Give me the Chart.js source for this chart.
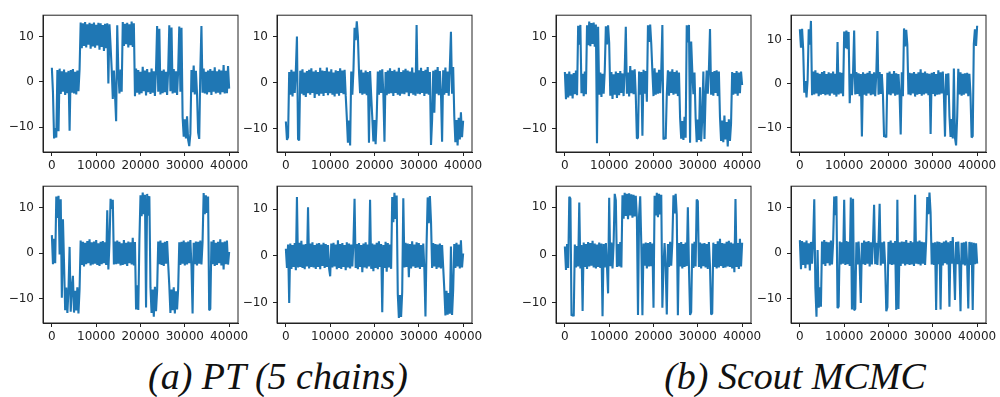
<!DOCTYPE html>
<html>
<head>
<meta charset="utf-8">
<script src="https://cdn.jsdelivr.net/npm/chart.js@4.4.1/dist/chart.umd.min.js"></script>
<style>
  body { margin: 0; background: #fff; width: 1000px; height: 397px; position: relative; overflow: hidden; }
  .panel { position: absolute; }
  .caption {
    position: absolute; top: 357px; line-height: 1;
    font-family: "Liberation Serif", serif; font-style: italic; font-size: 38px;
    color: #111; white-space: nowrap; transform: translateX(-50%);
  }
</style>
</head>
<body>
<div class="caption" style="left:278px">(a) PT (5 chains)</div>
<div class="caption" style="left:795px">(b) Scout MCMC</div>
<script>
// iterations between two recorded points of a trace
const step = 250;
const xTicks = [0, 10000, 20000, 30000, 40000];
const yTicks = [-10, 0, 10];

// PT (5 chains), traces (one value per 250 iterations)
const ptChain1 = [
  3.1,-2.4,-12.5,-10.2,-12.3,2.6,-10.9,2.9,-2.7,2.3,
  -2.2,2.7,-2.9,2.1,-2.5,2.4,-10.8,2.6,-2.4,2.8,
  -2.6,2.2,-2.8,2.5,-2.1,2.7,13.1,7.4,12.9,7.9,
  13.2,7.6,12.7,8.2,13.0,7.3,12.8,7.8,13.1,7.5,
  12.6,8.0,13.0,7.1,12.9,7.7,12.5,6.8,12.8,7.4,
  12.9,-0.4,12.7,7.9,2.8,-3.8,2.5,-2.9,-8.7,12.5,
  2.3,-2.6,2.7,-2.2,13.2,7.9,12.8,8.3,13.0,7.6,
  12.7,8.1,13.3,7.7,12.9,-3.2,2.9,-2.4,2.6,-2.8,
  2.2,-2.5,3.3,-2.1,2.5,-3.0,2.8,-2.3,2.1,-2.7,
  2.9,-2.4,2.3,-3.1,2.6,12.3,-2.2,11.7,-2.8,2.4,
  -2.5,2.7,-2.3,2.2,-2.9,2.6,12.5,-2.1,12.0,-2.6,
  2.8,-2.4,2.3,-2.9,2.5,12.2,-2.2,11.9,-7.8,-12.1,
  -8.3,-12.5,-7.6,-12.8,-14.2,-11.5,2.6,-2.3,3.6,-2.8,
  2.4,-2.5,-11.2,-12.6,2.7,12.3,-2.4,2.9,-2.6,2.2,
  -2.8,2.5,-2.3,2.8,-2.9,2.4,-2.2,3.2,-2.6,2.3,
  -2.4,2.7,-2.8,2.5,-2.3,3.7,-2.6,2.4,-2.5,3.5,
  -1.5
];
const ptChain2 = [
  -8.4,-12.4,-11.8,2.3,-2.6,2.8,-3.0,2.4,-2.2,2.7,
  10.0,-12.2,-12.5,2.6,-2.4,2.9,-2.7,2.2,-3.1,2.5,
  -2.3,2.8,-2.6,3.1,-2.2,2.4,-3.3,2.7,-2.5,2.3,
  -2.8,3.2,-2.4,2.6,-2.9,2.5,-2.2,3.3,-2.7,2.4,
  -2.3,2.9,-2.6,2.2,-3.0,2.7,-2.4,2.5,-2.8,3.1,
  -2.2,2.6,-2.5,2.8,-2.7,-7.5,-13.0,-8.2,-13.6,2.4,
  -2.6,2.7,11.9,9.2,13.3,10.1,2.5,-2.3,2.8,-2.6,
  2.2,-2.4,2.6,-2.7,2.3,-13.0,2.5,-2.8,-7.6,-12.7,
  -8.1,-13.3,-7.4,2.4,-2.6,2.7,-2.2,2.9,-2.5,-12.8,
  2.3,-2.7,2.6,-2.4,3.1,-2.3,2.5,-2.9,2.8,-2.2,
  2.4,-2.6,3.2,-2.8,2.3,-2.4,2.7,-2.5,3.0,-2.1,
  2.6,-2.9,2.4,-2.3,3.3,-2.6,2.2,-2.8,12.5,-2.4,
  2.7,-2.5,3.2,-2.2,2.5,-2.9,2.8,-2.4,3.4,-2.6,
  2.3,-13.5,-8.0,2.6,-6.5,2.8,-2.4,3.4,-2.7,2.5,
  -2.3,-12.8,2.7,-2.6,3.3,-2.2,2.4,-2.8,3.5,11.0,
  -2.4,3.4,-7.2,-12.9,-8.1,-13.6,-7.6,-12.3,-6.4,-11.8,
  -8.2
];
const ptChain3 = [
  4.0,-2.4,3.2,-2.2,12.5,7.8,12.7,-0.3,11.9,-9.8,
  7.5,-2.3,-12.6,-7.6,-13.2,-8.1,1.4,-12.9,-7.7,-5.0,
  -13.1,-8.3,-12.6,-7.5,-13.3,-8.0,2.8,-2.6,2.5,-2.9,
  2.3,-2.4,2.7,-2.2,3.1,-2.7,2.4,-2.5,2.6,-2.3,
  2.9,-2.6,2.2,-2.8,2.5,-2.4,2.7,-2.2,2.4,-2.6,
  9.5,-3.6,2.3,12.0,9.8,11.8,-2.5,2.6,-2.4,2.8,
  -2.3,2.5,-2.7,2.2,-2.6,2.9,-2.4,2.3,-2.8,2.6,
  -2.2,2.4,-2.5,3.4,-2.7,2.5,-12.4,-7.1,-12.5,2.8,
  12.8,8.2,13.4,8.6,12.9,-12.0,13.1,8.3,12.6,-7.6,
  -13.2,-8.0,-14.0,-7.4,-12.8,-8.2,2.6,-2.4,2.8,-2.6,
  2.3,-2.8,2.5,-2.3,2.7,-2.5,-7.2,-13.2,-8.0,-12.6,
  -7.5,-13.3,-8.4,-12.4,-7.8,2.4,-2.6,2.5,-2.3,2.8,
  -2.7,2.4,-2.5,2.6,-2.2,2.9,-2.8,-13.3,2.3,-2.4,
  2.6,-2.7,2.5,-2.3,2.8,-2.5,2.4,13.3,8.6,12.8,
  8.9,12.5,-12.6,-12.3,2.6,-2.4,2.9,-2.8,2.3,-2.6,
  2.5,-2.2,3.1,-2.7,2.4,-3.6,2.6,-2.4,2.8,-2.5,
  0.3
];
const ptChain4 = [
  1.5,-2.6,2.4,-10.1,2.6,-2.8,2.3,-2.4,2.7,-3.1,
  12.6,-2.5,2.8,-2.4,3.2,-2.6,2.4,-2.9,2.5,-2.3,
  10.4,-2.7,2.6,-2.4,2.9,-2.5,2.3,-2.8,2.6,-2.4,
  2.7,-2.9,2.4,-2.2,2.8,-2.6,2.5,-2.4,2.3,-2.7,
  -4.4,2.6,-2.5,2.8,-2.3,2.4,-2.9,3.3,-2.6,2.5,
  -2.8,2.7,-2.4,2.3,-3.1,2.9,-2.5,2.6,-2.7,2.4,
  -2.3,2.8,12.2,-2.6,2.5,-2.9,2.7,-2.4,2.3,-3.5,
  2.6,-2.5,2.9,-2.7,2.4,-2.3,12.0,-2.8,2.6,-3.3,
  2.4,-2.6,2.8,-2.9,3.1,-2.4,2.5,-12.1,2.3,-2.6,
  3.0,-3.4,2.7,-2.5,2.4,-2.8,12.6,7.2,13.5,7.9,
  12.9,-8.1,-13.3,-8.4,-13.1,-7.8,12.3,-2.5,2.8,-2.4,
  2.6,-4.6,2.5,-2.7,3.1,-2.3,2.4,-2.6,2.9,-2.5,
  2.7,-2.8,2.3,-2.4,2.6,-2.9,-13.0,2.5,12.5,7.0,
  12.8,7.4,-2.6,2.7,-2.3,2.5,-2.8,2.4,-2.5,2.6,
  -2.7,2.3,-2.4,-7.2,-12.8,-7.5,-12.6,-8.0,-12.4,2.0,
  -12.7,-7.4,2.5,-2.6,2.8,-2.3,2.4,-2.7,3.3,-2.5,
  0.5
];

// Scout MCMC, traces (one value per 250 iterations)
const scoutChain1 = [
  2.3,-3.6,1.9,-3.2,2.4,-2.8,1.8,-3.4,2.1,-2.5,
  2.6,-2.7,12.3,8.2,12.5,-2.3,1.9,-2.9,2.4,-2.5,
  12.4,8.1,13.2,7.9,12.9,8.4,13.0,7.8,12.6,-13.1,
  12.1,-2.6,2.2,-3.1,1.9,-2.4,2.5,12.2,8.3,12.4,
  8.6,-2.8,2.3,-3.5,1.8,-2.6,2.4,-3.3,2.1,-2.7,
  2.5,-2.2,2.0,-2.9,2.6,12.1,-2.4,2.2,-3.0,3.6,
  -2.3,2.7,-2.5,2.9,-2.8,-12.1,-11.9,2.4,-2.6,2.3,
  -11.5,2.8,-2.4,2.5,-4.1,12.4,8.8,12.6,8.3,2.4,
  -2.9,3.1,-2.6,2.2,-2.4,2.8,-2.3,2.6,12.5,-12.3,
  -11.8,-12.2,-2.5,2.7,-2.8,2.4,-2.2,2.9,-2.6,2.3,
  -2.4,2.6,-2.9,2.2,-7.6,-12.1,-8.3,-12.4,-7.4,-11.9,
  12.4,8.7,12.5,-13.0,8.9,2.6,-2.5,2.2,-7.5,-12.9,
  -8.0,-12.4,-1.0,-12.7,-7.8,2.4,-12.2,-3.0,2.6,-2.4,
  2.9,11.6,-2.6,2.3,-2.8,2.5,-2.2,2.7,-2.9,2.4,
  -7.4,-12.6,-8.2,-12.9,-7.1,-12.3,-8.5,-13.8,-7.9,-12.6,
  -8.8,2.3,-2.6,2.1,-2.4,2.5,-2.8,2.2,-2.3,2.4,
  -0.5
];
const scoutChain2 = [
  12.4,8.2,12.5,7.8,-2.0,0.6,-3.1,0.8,12.4,8.9,
  14.3,-2.6,2.8,-2.4,3.1,-2.2,2.5,-2.8,2.3,-2.5,
  2.7,-2.3,2.9,-2.6,2.2,-2.4,2.6,-2.7,2.4,-2.2,
  2.8,-2.5,2.3,-2.9,9.5,-2.4,2.6,-2.2,2.5,-2.8,
  11.9,8.1,12.1,7.9,11.8,-4.4,2.3,-2.6,2.5,12.1,
  -2.4,2.7,-2.3,2.4,-2.8,2.2,-12.0,2.6,-2.5,2.3,
  -2.7,2.5,-2.2,2.9,-2.6,2.3,-2.4,2.6,-2.8,2.4,
  12.0,-2.5,2.7,-2.3,2.2,-2.6,-12.1,-11.6,-12.2,2.5,
  -2.4,2.8,-2.6,2.3,-2.2,2.9,-2.7,2.4,-2.5,2.2,
  -2.3,-11.5,2.6,-2.8,12.6,8.5,12.3,8.9,-2.4,2.5,
  -2.6,2.4,-2.2,2.7,-2.9,2.3,-2.5,2.6,-2.3,3.3,
  -2.7,2.5,-2.4,2.8,-2.2,2.4,-2.6,2.3,-11.4,2.5,
  -2.3,2.7,-2.8,2.2,-2.5,3.1,-2.4,2.6,-2.2,2.8,
  -2.5,-12.0,2.3,-2.6,2.4,-7.3,-12.1,-8.0,-12.4,3.5,
  -12.3,-14.0,-7.5,3.4,-2.4,2.6,-2.7,2.3,-2.5,2.4,
  -2.2,2.5,-2.8,2.3,-2.4,-12.2,-11.9,9.1,12.4,8.6,
  13.2
];
const scoutChain3 = [
  1.8,-3.1,2.3,-2.7,12.2,11.8,-12.7,-12.4,-12.8,2.2,
  -2.6,1.9,-2.4,11.0,-2.8,2.1,-11.7,2.6,-2.5,2.3,
  -2.9,2.7,-2.4,2.5,-2.2,3.0,-2.6,2.4,-2.8,2.2,
  -2.5,2.6,-2.7,2.4,-12.8,2.3,-2.6,2.5,-2.4,-8.0,
  12.0,-2.3,2.6,-2.8,2.4,12.8,11.5,-2.5,2.3,-2.4,
  2.7,-2.6,12.5,7.6,13.0,8.2,12.8,7.5,12.9,8.3,
  12.7,7.8,12.6,8.1,12.4,7.9,-12.5,8.4,12.3,2.1,
  -12.6,2.4,-2.2,2.6,-2.8,2.5,-2.4,2.7,-2.3,2.4,
  -11.0,12.4,8.3,13.0,7.9,12.8,8.5,12.6,-11.0,-2.4,
  2.5,-2.6,-12.4,2.3,-2.5,2.8,-2.2,2.6,12.5,8.7,
  12.8,8.4,-12.6,2.5,-2.4,2.7,-2.8,2.3,-2.5,2.6,
  -2.3,10.0,-2.6,-12.5,-11.9,2.4,-2.7,2.8,-2.4,11.6,
  11.3,-2.5,2.6,-2.8,2.4,-2.3,2.5,-2.6,2.3,-2.9,
  2.7,-2.4,-12.4,-12.2,2.6,-2.5,2.3,-2.8,2.9,-2.6,
  3.4,-2.3,2.5,-2.7,2.4,-2.6,2.8,-2.4,3.0,-2.5,
  2.6,-2.8,2.4,-3.6,11.7,-2.5,2.5,-2.9,3.4,-2.4,
  2.6
];
const scoutChain4 = [
  2.9,-3.5,2.7,-2.6,2.4,-3.3,2.8,-2.5,2.2,-3.8,
  2.5,-2.3,2.7,11.9,-7.6,-14.0,0.7,-12.0,-7.5,-11.8,
  2.6,-2.4,2.9,-2.8,2.5,-2.2,2.4,-2.7,2.8,-2.5,
  2.3,12.5,8.4,12.6,-12.1,-11.8,2.6,-2.5,2.4,-2.3,
  11.8,-2.6,2.7,-2.4,2.5,-2.8,12.3,-12.4,12.0,-12.6,
  -12.3,2.4,-2.5,2.6,-2.7,-11.0,2.3,-2.4,2.8,-2.6,
  2.5,-2.3,2.7,-2.9,2.4,-2.5,2.6,10.7,-2.4,2.3,
  -2.6,2.5,10.9,-2.7,2.4,-2.3,2.6,-2.8,-12.8,-11.9,
  2.5,-2.4,2.8,-2.6,2.3,-2.5,2.7,-12.5,11.8,-12.3,
  2.4,-2.8,2.6,-2.3,2.5,-2.7,2.9,-2.4,2.3,-2.6,
  2.7,-2.5,2.4,-2.8,12.9,-2.3,2.6,-2.4,2.8,-2.7,
  2.5,-2.3,2.4,-2.6,2.7,12.4,8.6,13.4,8.9,-2.5,
  2.3,-2.6,2.4,-12.5,2.6,-2.4,2.5,-12.4,2.3,-2.7,
  2.6,-2.2,2.8,-2.5,2.4,-11.8,2.7,-2.3,3.6,-2.6,
  -10.3,2.5,-2.4,2.6,-2.8,-12.8,2.3,-2.5,2.4,-2.7,
  2.6,-2.3,-12.2,2.5,-2.6,2.4,-12.5,2.3,-2.4,2.2,
  -2.3
];

// layout of the eight small axes (plot-area corners in page pixels)
const PLOT_W = 195, PLOT_H = 144;
const AXIS_W = 45, AXIS_H = 26, PAD_T = 5, PAD_R = 14;
const panels = [
  { values: ptChain1, left: 43, top: 8, yMin: -15.5, yMax: 14.7 },
  { values: ptChain2, left: 277, top: 8, yMin: -15.0, yMax: 14.6 },
  { values: scoutChain1, left: 556, top: 8, yMin: -15.0, yMax: 14.6 },
  { values: scoutChain2, left: 791, top: 8, yMin: -15.5, yMax: 15.6 },
  { values: ptChain3, left: 43, top: 179, yMin: -15.4, yMax: 14.8 },
  { values: ptChain4, left: 277, top: 179, yMin: -14.4, yMax: 14.9 },
  { values: scoutChain3, left: 556, top: 179, yMin: -14.2, yMax: 14.4 },
  { values: scoutChain4, left: 791, top: 179, yMin: -15.4, yMax: 14.8 },
];

// matplotlib-like box around the plot area
const frame = {
  id: "frame",
  afterDraw(chart) {
    const { ctx, chartArea: a } = chart;
    ctx.save();
    ctx.strokeStyle = "#222";
    ctx.lineWidth = 1;
    ctx.strokeRect(a.left, a.top, a.right - a.left, a.bottom - a.top);
    ctx.restore();
  },
};

const tickFont = { family: "DejaVu Sans", size: 12 };

function makePanel(p) {
  const wrap = document.createElement("div");
  wrap.className = "panel";
  const w = AXIS_W + PLOT_W + PAD_R;
  const h = PAD_T + PLOT_H + AXIS_H;
  wrap.style.left = p.left - AXIS_W + "px";
  wrap.style.top = p.top - PAD_T + "px";
  const canvas = document.createElement("canvas");
  canvas.width = w;
  canvas.height = h;
  wrap.appendChild(canvas);
  document.body.appendChild(wrap);

  new Chart(canvas, {
    type: "line",
    data: {
      datasets: [
        {
          data: p.values.map((y, i) => ({ x: i * step, y: y })),
          borderColor: "#1f77b4",
          borderWidth: 2.1,
          borderJoinStyle: "bevel",
          pointRadius: 0,
          tension: 0,
          fill: false,
        },
      ],
    },
    options: {
      responsive: false,
      animation: false,
      events: [],
      layout: { padding: { top: PAD_T, right: PAD_R, left: 0, bottom: 0 } },
      plugins: { legend: { display: false }, tooltip: { enabled: false } },
      scales: {
        x: {
          type: "linear",
          min: -2000,
          max: 42000,
          afterBuildTicks: (s) => {
            s.ticks = xTicks.map((v) => ({ value: v }));
          },
          afterFit: (s) => {
            s.height = AXIS_H;
          },
          ticks: {
            font: tickFont,
            color: "#222",
            padding: 3,
            maxRotation: 0,
            autoSkip: false,
            callback: (v) => String(v),
          },
          grid: { drawOnChartArea: false, tickLength: 4, color: "#222" },
          border: { display: true, color: "#222", width: 1 },
        },
        y: {
          min: p.yMin,
          max: p.yMax,
          afterBuildTicks: (s) => {
            s.ticks = yTicks.map((v) => ({ value: v }));
          },
          afterFit: (s) => {
            s.width = AXIS_W;
          },
          ticks: {
            font: tickFont,
            color: "#222",
            padding: 5,
            callback: (v) => (v < 0 ? "\u2212" + Math.abs(v) : String(v)),
          },
          grid: { drawOnChartArea: false, tickLength: 4, color: "#222" },
          border: { display: true, color: "#222", width: 1 },
        },
      },
    },
    plugins: [frame],
  });
}

panels.forEach(makePanel);
</script>
</body>
</html>
